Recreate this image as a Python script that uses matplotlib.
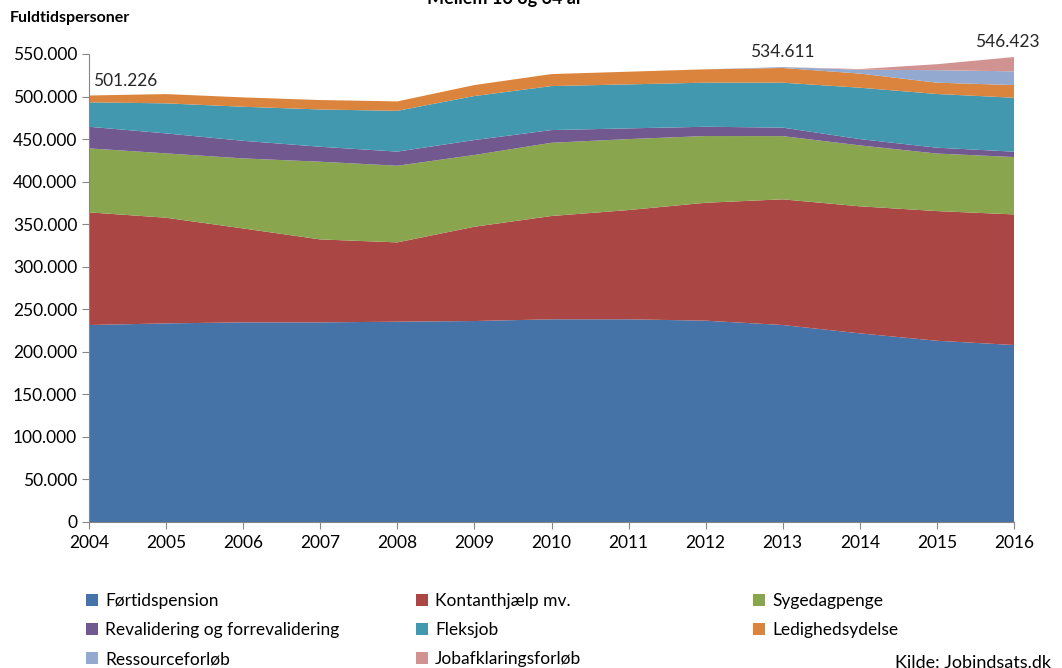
import numpy as np
import matplotlib
matplotlib.use('Agg')
import matplotlib.pyplot as plt
from matplotlib.patches import Patch
from matplotlib.ticker import FuncFormatter


# Data (fuldtidspersoner)
years = [2004, 2005, 2006, 2007, 2008, 2009, 2010, 2011, 2012, 2013, 2014, 2015, 2016]

fortidspension = [231500, 233400, 234600, 234600, 235400, 236200, 238200, 238200, 236600, 231500, 221700, 213000, 208000]
kontanthjaelp = [132400, 124200, 110400, 97500, 93200, 110800, 121400, 128400, 138600, 147700, 149300, 152400, 153500]
sygedagpenge = [75200, 75600, 82300, 91300, 90100, 84300, 86100, 83400, 78400, 74300, 71600, 67600, 67400]
revalidering = [25400, 23500, 20700, 17600, 16600, 17600, 14900, 12600, 10900, 10000, 7400, 6900, 6300]
fleksjob = [28700, 35300, 40000, 43800, 47900, 51700, 51700, 51700, 51800, 52800, 60400, 63100, 63400]
ledighedsydelse = [8026, 10900, 11000, 11100, 11100, 12900, 14100, 14900, 15700, 17300, 16600, 13300, 14900]
ressourceforlob = [0, 0, 0, 0, 0, 0, 0, 0, 0, 1011, 4500, 14700, 16100]
jobafklaring = [0, 0, 0, 0, 0, 0, 0, 0, 0, 0, 800, 7000, 16823]

series_names = ['Førtidspension', 'Kontanthjælp mv.', 'Sygedagpenge',
                'Revalidering og forrevalidering', 'Fleksjob', 'Ledighedsydelse',
                'Ressourceforløb', 'Jobafklaringsforløb']
colors = ['#4572A7', '#AA4643', '#89A54E', '#71588F', '#4198AF', '#DB843D',
          '#93A9CF', '#D19392']

label_years = [2004, 2013, 2016]
label_texts = ['501.226', '534.611', '546.423']

plt.rcParams['font.family'] = ['Lato', 'DejaVu Sans']

fig = plt.figure(figsize=(10.62, 6.68), dpi=100)
ax = fig.add_axes([89/1062, 1 - 522/668, (1014 - 89)/1062, (522 - 54)/668])

data = [fortidspension, kontanthjaelp, sygedagpenge, revalidering,
        fleksjob, ledighedsydelse, ressourceforlob, jobafklaring]
ax.stackplot(years, *data, colors=colors, linewidth=0)

total = np.sum(np.array(data), axis=0)

# Data labels for totals
for yr, txt in zip(label_years, label_texts):
    i = years.index(yr)
    ha = 'left' if yr == 2004 else 'center'
    dx = {2004: 3, 2013: 0, 2016: -5}[yr]
    ax.annotate(txt, (yr, total[i]), xytext=(dx, 5), textcoords='offset points',
                ha=ha, va='bottom', fontsize=12.5, color='#262626',
                annotation_clip=False)

ax.set_xlim(2004, 2016)
ax.set_ylim(0, 550000)
ax.set_xticks(years)
ax.set_yticks(np.arange(0, 550001, 50000))
ax.yaxis.set_major_formatter(FuncFormatter(lambda v, p: f'{int(v):,}'.replace(',', '.')))
ax.tick_params(axis='both', labelsize=12.5, colors='#868686', labelcolor='#000000',
               length=5, direction='out')
ax.tick_params(axis='x', pad=4)

for s in ['top', 'right']:
    ax.spines[s].set_visible(False)
for s in ['left', 'bottom']:
    ax.spines[s].set_color('#868686')

# Title (cut off at the top edge, as in the source) and axis title
fig.text(0.475, 1 - 4/668, 'Mellem 16 og 64 år', ha='center', va='baseline',
         fontsize=13, fontweight='bold')
fig.text(10/1062, 1 - 18/668, 'Fuldtidspersoner', ha='left', va='center',
         fontsize=11.5, fontweight='bold')

# Legend, three columns, filled row-wise
handles = [Patch(facecolor=c, edgecolor='none') for c in colors]
cols = [[0, 3, 6], [1, 4, 7], [2, 5]]
col_x = [86/1062, 416/1062, 753/1062]
for xs, idx in zip(col_x, cols):
    fig.legend([handles[i] for i in idx], [series_names[i] for i in idx],
               loc='upper left', bbox_to_anchor=(xs, 1 - 593/668),
               frameon=False, fontsize=12.5, handlelength=0.7, handleheight=0.7,
               handletextpad=0.4, labelspacing=0.75, borderpad=0, borderaxespad=0)

fig.text(895/1062, 1 - 655/668, 'Kilde: Jobindsats.dk', ha='left', va='top', fontsize=13)

fig.savefig('out.png', dpi=100)
